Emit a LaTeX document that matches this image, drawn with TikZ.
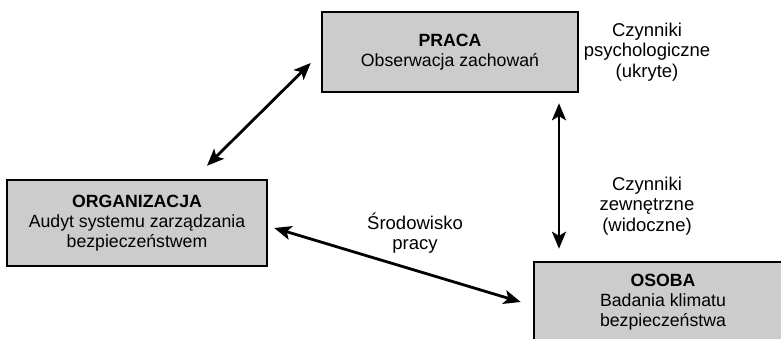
\documentclass[tikz,border=0pt]{standalone}
\usepackage{fontspec}
\setmainfont{Liberation Sans}
\usetikzlibrary{arrows.meta,calc}
\definecolor{boxgray}{RGB}{204,204,204}
\tikzset{
  area/.style={draw=black, line width=2.5pt, fill=boxgray, align=center,
    inner sep=0pt, font=\fontsize{17.7}{20}\selectfont},
  lbl/.style={align=center, inner sep=0pt, font=\fontsize{18.5}{20.5}\selectfont},
  tip/.style={Stealth[length=17pt,width=14pt,inset=4pt]},
  link/.style={line width=2.8pt, {Stealth[length=17pt,width=14pt,inset=4pt]}-{Stealth[length=17pt,width=14pt,inset=4pt]}}
}
\begin{document}
\begin{tikzpicture}[x=1pt,y=-1pt]
  \useasboundingbox (0,0) rectangle (781,339);
  \begin{scope}
    \clip (0,0) rectangle (781,339);
    % the three areas of analysis
    \node[area, minimum width=256pt, minimum height=80pt] (praca) at (450,52)
      {\textbf{PRACA}\\Obserwacja zachowań};
    \node[area, minimum width=260pt, minimum height=86pt] (org) at (137,223)
      {\textbf{ORGANIZACJA}\\Audyt systemu zarządzania\\bezpieczeństwem};
    \node[area, minimum width=258pt, minimum height=80pt] (osoba) at (663,302)
      {\textbf{OSOBA}\\Badania klimatu\\bezpieczeństwa};
  \end{scope}

  % factor labels
  \node[lbl] (psy) at (647,52) {Czynniki\\psychologiczne\\(ukryte)};
  \node[lbl] (zew) at (647,206) {Czynniki\\zewnętrzne\\(widoczne)};
  \node[lbl] (srod) at (415,233) {Środowisko\\pracy};

  % connector end points
  \coordinate (a1) at ($(org.north)+(70,-13)$);
  \coordinate (a2) at ($(praca.west)+(-10,11)$);
  \coordinate (b1) at ($(org.east)+(6,5)$);
  \coordinate (b2) at ($(osoba.west)+(-12,0)$);
  \coordinate (c1) at ($(praca.south)+(109,10)$);
  \coordinate (c2) at ($(osoba.north)+(-104,-12)$);

  \draw[link] (a1) -- (a2);
  \draw[link] (b1) -- (b2);
  \draw[link] (c1) -- (c2);
\end{tikzpicture}
\end{document}
